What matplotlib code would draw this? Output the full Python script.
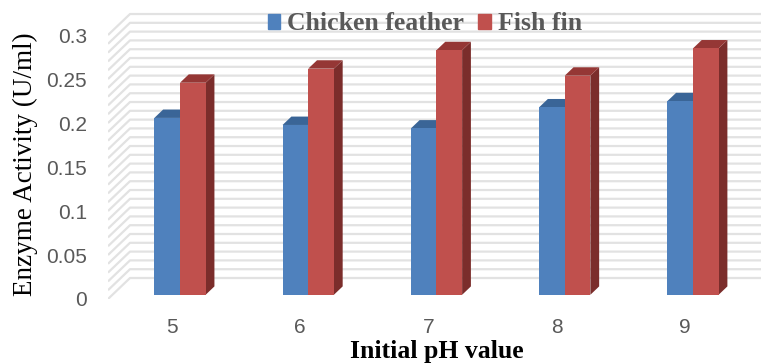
import matplotlib.pyplot as plt
import numpy as np

plt.rcParams['font.family'] = ['Liberation Sans', 'DejaVu Sans']

ph = ['5', '6', '7', '8', '9']
chicken = [0.201, 0.193, 0.189, 0.213, 0.220]
fish = [0.241, 0.257, 0.278, 0.249, 0.280]

names = ['Chicken feather', 'Fish fin']
front_col = ['#4F81BD', '#C0504D']
top_col = ['#3A6597', '#953735']
side_col = ['#385D8A', '#7B2D2B']

fig = plt.figure(figsize=(7.61, 3.64), dpi=100)
ax = fig.add_axes([108/761, 65/364, 653/761, 299/364])
xmin, xmax = -0.499, 4.593
ymin, ymax = 0, 0.3398
ax.set_xlim(xmin, xmax)
ax.set_ylim(ymin, ymax)

# depth of the 3d box (front plane -> back wall) in data units
DX = 22/128.25
DY = 21/880.

def proj(x, v, z):
    return x + z*DX, v + z*DY

# side wall + back wall gridlines
for v in np.arange(0, 0.3001, 0.01):
    x0, y0 = proj(xmin, v, 0)
    x1, y1 = proj(xmin, v, 1)
    ax.plot([x0, x1, xmax], [y0, y1, y1], color='#E2E2E2', lw=1.6,
            solid_capstyle='butt', zorder=1)

# 3d columns
w = 0.2
z0, z1 = 0.2, 0.6
for i in range(len(ph)):
    for s, vals in enumerate([chicken, fish]):
        v = vals[i]
        left = i + 0.028 + (s-1)*w
        right = left + w
        fl = proj(left, 0, z0); fr = proj(right, 0, z0)
        tl = proj(left, v, z0); tr = proj(right, v, z0)
        bl = proj(left, v, z1); br = proj(right, v, z1)
        rb = proj(right, 0, z1)
        # side face
        ax.fill([fr[0], rb[0], br[0], tr[0]], [fr[1], rb[1], br[1], tr[1]],
                color=side_col[s], zorder=3+2*i+s, lw=0)
        # top face
        ax.fill([tl[0], tr[0], br[0], bl[0]], [tl[1], tr[1], br[1], bl[1]],
                color=top_col[s], zorder=3+2*i+s, lw=0)
        # front face
        ax.fill([fl[0], fr[0], tr[0], tl[0]], [fl[1], fr[1], tr[1], tl[1]],
                color=front_col[s], zorder=3+2*i+s, lw=0)

for sp in ax.spines.values():
    sp.set_visible(False)

ax.set_yticks([0, 0.05, 0.1, 0.15, 0.2, 0.25, 0.3])
ax.set_yticklabels(['0', '0.05', '0.1', '0.15', '0.2', '0.25', '0.3'])
ax.set_xticks(range(len(ph)))
ax.set_xticklabels(ph)
ax.tick_params(axis='y', length=0, pad=15, labelsize=15, labelcolor='#595959')
ax.tick_params(axis='x', length=0, pad=14, labelsize=15, labelcolor='#595959')

fig.text(25/761, 1 - 164/364, 'Enzyme Activity (U/ml)', rotation=90,
         ha='center', va='center', fontsize=19.5, family='Liberation Serif')
fig.text(437/761, 1/364, 'Initial pH value', ha='center', va='bottom',
         fontsize=18.5, fontweight='bold', family='Liberation Serif')

handles = [plt.Rectangle((0, 0), 1, 1, color=c) for c in front_col]
leg = fig.legend(handles, names, loc='center', bbox_to_anchor=(425/761, 1 - 24/364),
                 ncol=2, frameon=False, handlelength=0.5, handleheight=0.55,
                 handletextpad=0.27, columnspacing=0.55, borderpad=0,
                 prop={'family': 'Liberation Serif', 'weight': 'bold', 'size': 18.5})
for t in leg.get_texts():
    t.set_color('#595959')

plt.savefig('out.png', dpi=100)
